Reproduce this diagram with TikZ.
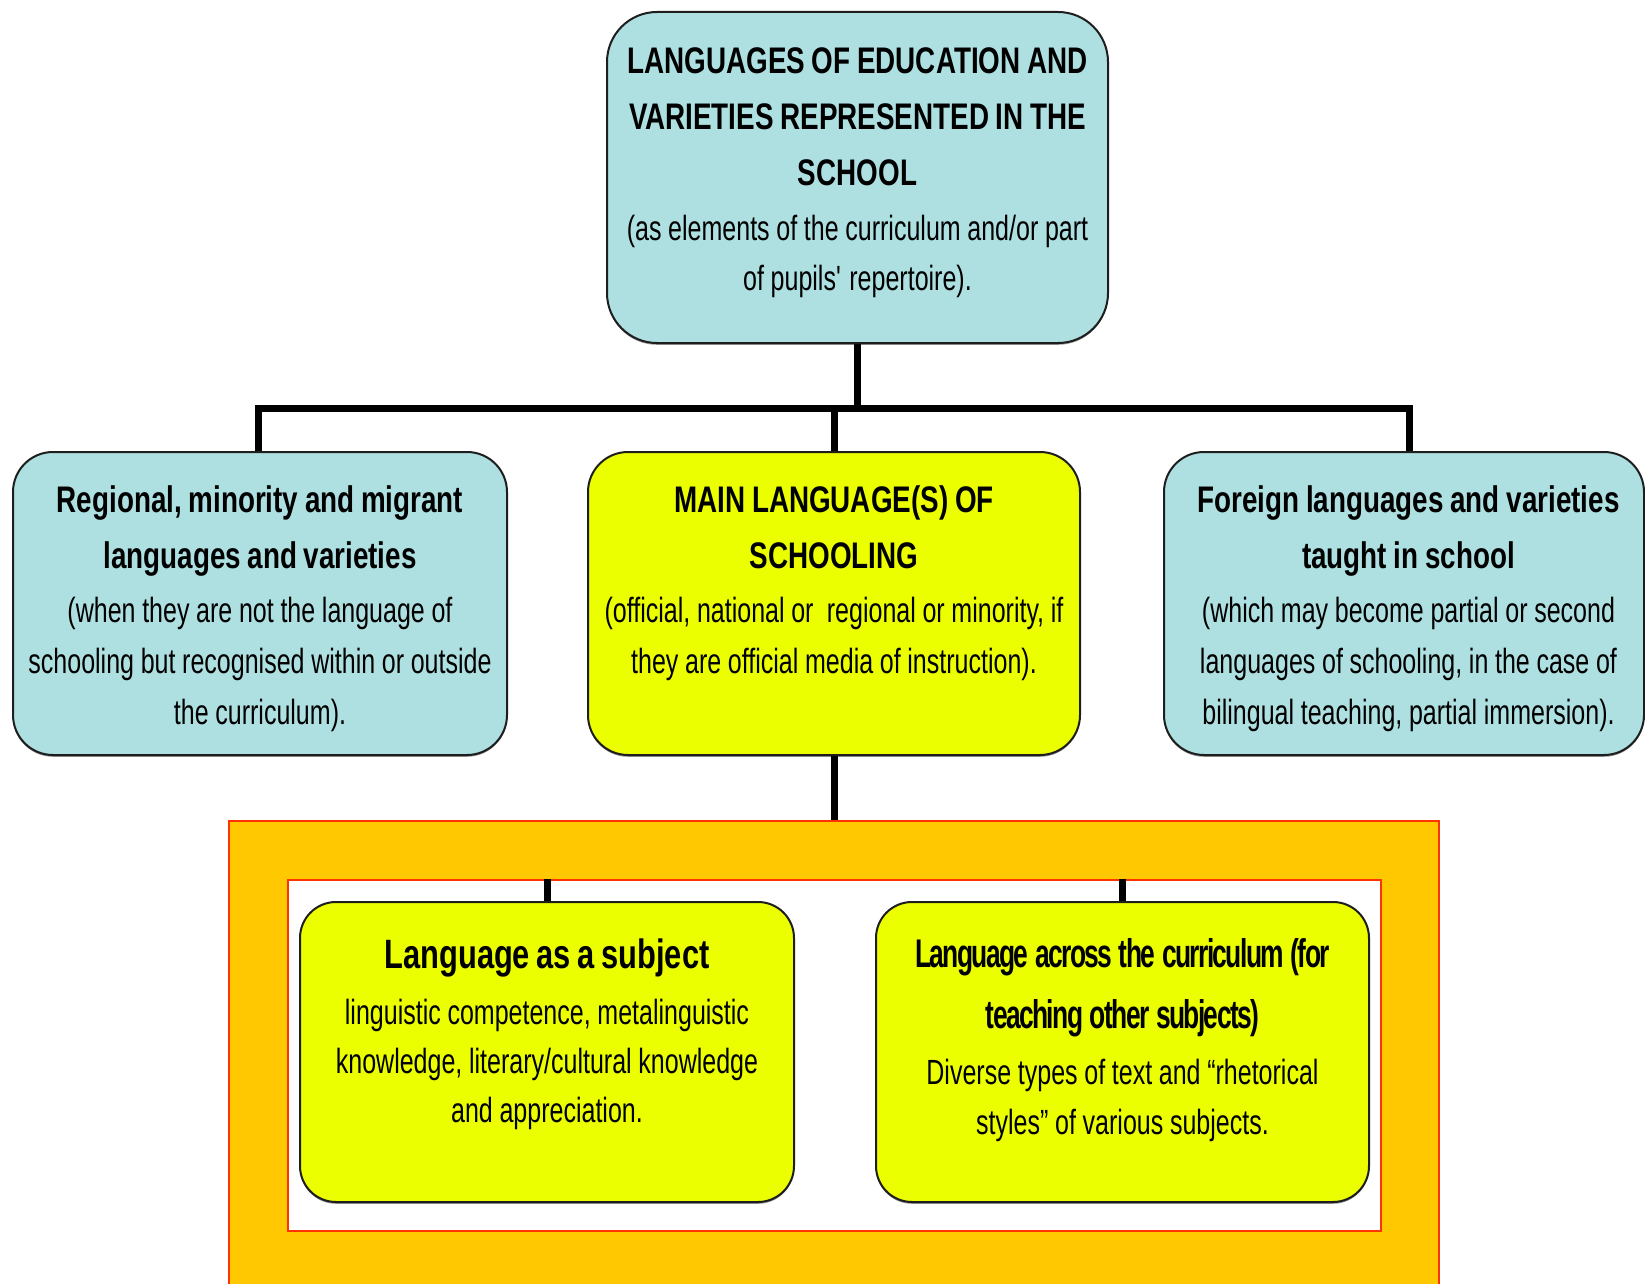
\documentclass[tikz,border=0pt]{standalone}
\usepackage{fontspec}
\usetikzlibrary{shadows}
\setmainfont{Liberation Sans}
\newfontfamily\hdf{Liberation Sans}[FakeStretch=0.752]
\newfontfamily\txf{Liberation Sans}[FakeStretch=0.715]
\newfontfamily\tgf{Liberation Sans}[FakeStretch=0.66,LetterSpace=-4]
\definecolor{cyanc}{RGB}{174,224,226}
\definecolor{ylwc}{RGB}{236,255,0}
\definecolor{orangec}{RGB}{255,200,0}
\definecolor{redc}{RGB}{255,51,0}
\definecolor{edgec}{RGB}{30,30,30}
\tikzset{
  box/.style={draw=edgec, line width=1pt, rounded corners=20pt, inner sep=0pt,
    drop shadow={shadow xshift=0pt, shadow yshift=-0.9pt, fill=black!70, opacity=0.6}},
  cyanbox/.style={box, fill=cyanc},
  ylwbox/.style={box, fill=ylwc},
  conn/.style={line width=3.5pt, black, line join=miter},
  txt/.style={align=center, inner sep=0pt, anchor=north, text width=300pt},
  frm/.style={draw=redc, line width=1pt, inner sep=0pt}
}
\begin{document}
\begin{tikzpicture}[x=0.5pt,y=-0.5pt]
\useasboundingbox (0,0) rectangle (1645,1284);
\clip (0,0) rectangle (1645,1284);
% boxes
\node[cyanbox, rounded corners=25pt, minimum width=250.5pt, minimum height=165.5pt] (top) at (857.5,177.5) {};
\node[cyanbox, minimum width=247pt, minimum height=151.5pt] (reg) at (260,603.5) {};
\node[ylwbox, minimum width=246pt, minimum height=151.5pt] (main) at (834,603.5) {};
\node[cyanbox, minimum width=240pt, minimum height=151.5pt] (for) at (1404,603.5) {};
\node[frm, fill=orangec, minimum width=605pt, minimum height=240pt] (frame) at (834,1061) {};
\node[frm, fill=white, minimum width=546.5pt, minimum height=175.5pt] (inner) at (834.5,1055.5) {};
\node[ylwbox, rounded corners=18pt, minimum width=247pt, minimum height=150pt] (subj) at (547,1052) {};
\node[ylwbox, rounded corners=18pt, minimum width=246.5pt, minimum height=150pt] (cur) at (1122.5,1052) {};
% connectors
\coordinate (bary) at (0,408);
\draw[conn] (top.south) -- (top.south |- bary);
\draw[conn] ([xshift=-0.7pt]reg.north) -- ([xshift=-0.7pt]reg.north |- bary) -- ([xshift=2.5pt]for.north |- bary) -- ([xshift=2.5pt]for.north);
\draw[conn] (main.north |- bary) -- (main.north);
\draw[conn] (main.south) -- (main.south |- frame.north);
\draw[conn] (inner.north -| subj.north) -- (subj.north);
\draw[conn] (inner.north -| cur.north) -- (cur.north);
% texts
\node[txt] (toptx) at (857.5,47) {\hdf\bfseries\fontsize{18.5}{28}\selectfont LANGUAGES OF EDUCATION AND\\ VARIETIES REPRESENTED IN THE\\ SCHOOL\par\vspace{2.8pt}
\txf\mdseries\fontsize{17.5}{25}\selectfont (as elements of the curriculum and/or part\\ of pupils\textquotesingle\ repertoire).\par};
\node[txt] (regtx) at (260,485) {\hdf\bfseries\fontsize{18.5}{28.3}\selectfont Regional, minority and migrant\\ languages and varieties\par\vspace{1.3pt}
\txf\mdseries\fontsize{17.5}{25.5}\selectfont (when they are not the language of\\ schooling but recognised within or outside\\ the curriculum).\par};
\node[txt] (maintx) at (834,485) {\hdf\bfseries\fontsize{18.5}{28.3}\selectfont MAIN LANGUAGE(S) OF\\ SCHOOLING\par\vspace{1.3pt}
\txf\mdseries\fontsize{17.5}{25.5}\selectfont (official, national or\ \ regional or minority, if\\ they are official media of instruction).\par};
\node[txt] (fortx) at (1408.5,485) {\hdf\bfseries\fontsize{18.5}{28.3}\selectfont Foreign languages and varieties\\ taught in school\par\vspace{1.3pt}
\txf\mdseries\fontsize{17.5}{25.5}\selectfont (which may become partial or second\\ languages of schooling, in the case of\\ bilingual teaching, partial immersion).\par};
\node[txt] (subjtx) at (547,938) {\hdf\bfseries\fontsize{20.5}{28}\selectfont Language as a subject\par\vspace{4pt}
\txf\mdseries\fontsize{17.5}{24.4}\selectfont linguistic competence, metalinguistic\\ knowledge, literary/cultural knowledge\\ and appreciation.\par};
\node[txt] (curtx) at (1122.5,938) {\tgf\bfseries\fontsize{20}{30.5}\selectfont Language across the curriculum (for\\ teaching other subjects)\par\vspace{3.2pt}
\txf\mdseries\fontsize{17.5}{25}\selectfont Diverse types of text and “rhetorical\\ styles” of various subjects.\par};
\end{tikzpicture}
\end{document}
